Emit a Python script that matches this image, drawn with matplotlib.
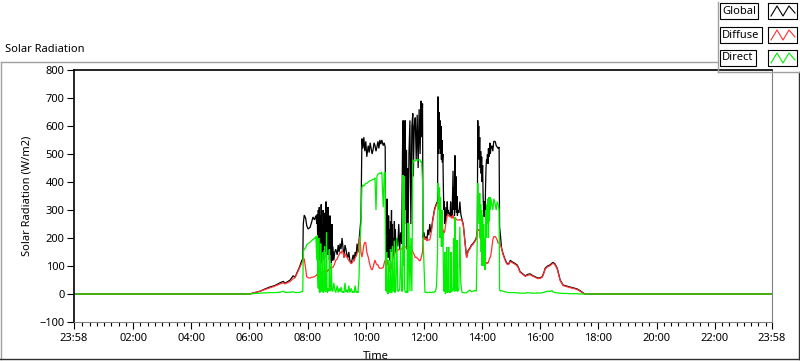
import numpy as np
import pandas as pd
import matplotlib
matplotlib.use("Agg")
import matplotlib.pyplot as plt
from matplotlib.lines import Line2D

# sample times (first entry is 23:58 of the day before)
time_hm = [
    # night + early morning
    "-00:02", "06:00", "06:11", "06:22", "06:32", "06:42", "06:52", "07:03", "07:10", "07:13",
    "07:24", "07:30", "07:34", "07:44", "07:48", "07:50",
    # 07:51 - 08:21
    "07:51", "07:53", "07:56", "07:58", "08:01", "08:05", "08:08", "08:11", "08:14", "08:17",
    "08:19", "08:20", "08:21",
    # 08:22 - 08:56
    "08:22", "08:23", "08:24", "08:25", "08:26", "08:27", "08:28", "08:29", "08:30", "08:31",
    "08:32", "08:33", "08:34", "08:35", "08:36", "08:37", "08:38", "08:39", "08:40", "08:41",
    "08:42", "08:43", "08:44", "08:45", "08:46", "08:47", "08:48", "08:49", "08:50", "08:51",
    "08:52", "08:54", "08:56",
    # 08:58 - 09:50
    "08:58", "09:01", "09:03", "09:05", "09:07", "09:09", "09:11", "09:13", "09:15", "09:17",
    "09:19", "09:21", "09:23", "09:25", "09:27", "09:30", "09:32", "09:34", "09:36", "09:38",
    "09:40", "09:42", "09:44", "09:46", "09:48", "09:50",
    # 09:52 - 10:40
    "09:52", "09:54", "09:56", "09:58", "10:00", "10:02", "10:05", "10:07", "10:09", "10:11",
    "10:13", "10:15", "10:17", "10:19", "10:21", "10:23", "10:25", "10:27", "10:29", "10:31",
    "10:33", "10:36", "10:38", "10:40",
    # 10:41 - 11:14
    "10:41", "10:42", "10:43", "10:44", "10:45", "10:46", "10:47", "10:48", "10:49", "10:50",
    "10:51", "10:52", "10:53", "10:54", "10:55", "10:56", "10:57", "10:58", "10:59", "11:00",
    "11:01", "11:02", "11:04", "11:06", "11:08", "11:10", "11:12", "11:14",
    # 11:16 - 11:57
    "11:16", "11:17", "11:18", "11:19", "11:20", "11:21", "11:22", "11:24", "11:25", "11:26",
    "11:27", "11:29", "11:31", "11:33", "11:35", "11:37", "11:38", "11:40", "11:42", "11:44",
    "11:46", "11:48", "11:50", "11:52", "11:54", "11:55", "11:57",
    # 11:58 - 12:28
    "11:58", "12:00", "12:02", "12:04", "12:06", "12:08", "12:10", "12:12", "12:14", "12:16",
    "12:18", "12:20", "12:22", "12:24", "12:26", "12:28",
    # 12:29 - 12:58
    "12:29", "12:30", "12:31", "12:32", "12:33", "12:34", "12:35", "12:36", "12:37", "12:38",
    "12:39", "12:40", "12:41", "12:42", "12:43", "12:44", "12:45", "12:46", "12:47", "12:48",
    "12:49", "12:50", "12:51", "12:52", "12:54", "12:55", "12:56", "12:57", "12:58",
    # 13:00 - 13:48
    "13:00", "13:01", "13:02", "13:03", "13:04", "13:05", "13:06", "13:07", "13:08", "13:09",
    "13:10", "13:12", "13:14", "13:16", "13:18", "13:19", "13:21", "13:25", "13:28", "13:31",
    "13:35", "13:38", "13:41", "13:45", "13:48",
    # 13:50 - 14:35
    "13:50", "13:51", "13:52", "13:53", "13:54", "13:55", "13:56", "13:57", "13:58", "13:59",
    "14:00", "14:01", "14:02", "14:03", "14:04", "14:05", "14:06", "14:07", "14:08", "14:09",
    "14:10", "14:11", "14:12", "14:13", "14:14", "14:15", "14:16", "14:17", "14:18",
    "14:20", "14:22", "14:24", "14:27", "14:29", "14:31", "14:33", "14:35",
    # afternoon + evening
    "14:36", "14:38", "14:40", "14:43", "14:47", "14:51", "14:55", "14:58", "15:02", "15:07",
    "15:12", "15:15", "15:18", "15:24", "15:29", "15:34", "15:39", "15:44", "15:49", "15:55",
    "16:00", "16:04", "16:08", "16:10", "16:15", "16:20", "16:24", "16:26", "16:30", "16:35",
    "16:41", "16:47", "16:55", "17:01", "17:08", "17:16", "17:22", "17:26", "17:32", "23:58",
]

global_wm2 = [
    0, 0, 5, 10, 18, 25, 30, 40, 45, 38, 50, 65, 60, 100, 120, 125,
    250, 282, 270, 245, 232, 238, 255, 275, 265, 280, 250, 285, 150,
    300, 120, 310, 130, 280, 110, 320, 140, 250, 120,
    300, 160, 260, 130, 290, 150, 330, 180, 270, 140,
    310, 160, 230, 120, 280, 140, 200, 110, 250, 120,
    170, 120, 150,
    160, 140, 175, 150, 180, 160, 200, 165, 130, 175, 160, 140, 130, 150, 120, 110, 125, 140, 120, 150,
    135, 180, 150, 190, 230, 270,
    555, 520, 560, 510, 545, 490, 530, 505, 540, 520, 500, 515, 540, 530, 510, 525, 545, 520, 550, 535,
    550, 530, 540, 525,
    150, 300, 140, 340, 200, 130, 280, 160, 230, 120, 260, 180, 300, 150, 250, 140, 200, 135, 260, 150,
    230, 160, 200, 170, 250, 160, 220, 180,
    560, 620, 200, 600, 250, 620, 300, 515, 160, 450, 180, 500, 620, 250, 600, 645, 420, 600, 630, 480,
    640, 450, 660, 500, 690, 560, 680,
    200, 220, 195, 205, 190, 230, 210, 250, 220, 240, 265, 285, 305, 315, 325, 330,
    705, 500, 650, 520, 620, 500, 600, 480, 550, 470,
    500, 380, 300, 330, 250, 300, 260, 310, 280, 330,
    290, 300, 285, 290, 280, 330, 280, 300, 275,
    440, 300, 380, 280, 495, 300, 420, 290, 350, 280, 300, 290, 330, 285, 270, 262, 250, 180, 132, 155,
    165, 175, 180, 190, 200,
    230, 620, 520, 600, 480, 560, 450, 510, 430, 490,
    400, 460, 350, 300, 275, 330, 275, 380, 450, 480,
    470, 500, 465, 520, 490, 510, 540, 500, 520,
    530, 510, 545, 545, 530, 525, 520, 525,
    240, 205, 165, 145, 125, 110, 108, 120, 115, 110, 104, 95, 80, 72, 65, 70, 72, 66, 62, 57,
    58, 62, 80, 92, 100, 104, 110, 113, 108, 92, 50, 32, 28, 25, 22, 18, 12, 7, 0, 0,
]

diffuse_wm2 = [
    0, 0, 5, 10, 16, 22, 28, 36, 40, 36, 45, 55, 58, 95, 110, 118,
    128, 125, 90, 62, 58, 57, 60, 60, 62, 65, 70, 65, 68,
    70, 70, 72, 70, 75, 70, 78, 75, 78, 72,
    80, 80, 82, 78, 80, 82, 80, 85, 85, 80,
    85, 85, 88, 90, 90, 92, 95, 90, 95, 95,
    95, 100, 110,
    120, 125, 135, 140, 150, 145, 155, 150, 130, 145, 135, 132, 125, 120, 115, 108, 112, 118, 118, 130,
    135, 145, 150, 190, 205, 150,
    132, 150, 175, 185, 182, 150, 132, 115, 100, 90, 86, 95, 110, 121, 110, 104, 104, 95, 92, 92,
    92, 95, 110, 121,
    121, 115, 110, 105, 110, 121, 115, 100, 95, 78, 85, 90, 95, 110, 120, 132, 135, 130, 140, 145,
    150, 150, 155, 157, 160, 157, 160, 160,
    165, 168, 168, 168, 168, 168, 168, 165, 165, 165, 167, 168, 168, 165, 160, 150, 148, 140, 130, 132,
    128, 125, 120, 118, 128, 135, 150,
    195, 205, 195, 200, 190, 193, 193, 193, 210, 230, 260, 280, 300, 310, 320, 325,
    325, 320, 315, 300, 290, 280, 270, 260, 253, 240,
    230, 225, 218, 220, 225, 240, 250, 260, 270, 280,
    282, 282, 280, 278, 275, 278, 275, 275, 270,
    282, 275, 270, 265, 275, 270, 268, 266, 265, 264, 264, 264, 266, 265, 264, 258, 247, 177, 129, 152,
    162, 172, 177, 187, 197,
    228, 228, 230, 228, 230, 215, 200, 195, 193, 193,
    190, 195, 190, 170, 150, 130, 112, 110, 110, 112,
    110, 112, 110, 115, 120, 125, 130, 132, 140,
    165, 193, 205, 205, 200, 193, 182, 182,
    182, 175, 162, 142, 122, 107, 106, 116, 112, 107, 101, 92, 78, 70, 63, 67, 69, 64, 60, 55,
    56, 60, 77, 89, 97, 101, 107, 110, 105, 89, 48, 30, 26, 23, 20, 16, 10, 5, 0, 0,
]

direct_wm2 = [
    0, 0, 2, 3, 4, 5, 5, 6, 10, 6, 6, 8, 5, 6, 8, 10,
    150, 160, 165, 175, 180, 185, 190, 195, 198, 205, 120, 210, 60,
    20, 200, 10, 5, 8, 180, 10, 15, 10, 150,
    5, 10, 15, 170, 10, 8, 30, 220, 10, 5,
    20, 15, 10, 160, 20, 10, 15, 110, 20, 10,
    10, 40, 15,
    5, 30, 5, 20, 8, 25, 5, 10, 5, 40, 8, 15, 5, 30, 5, 20, 5, 10, 5, 30,
    5, 10, 5, 60, 190, 250,
    380, 390, 385, 390, 395, 395, 400, 402, 405, 405, 408, 410, 410, 415, 300, 420, 428, 430, 432, 430,
    435, 310, 432, 435,
    60, 10, 150, 5, 5, 0, 120, 10, 10, 5, 160, 10, 5, 5, 170, 20, 10, 10, 190, 5,
    10, 15, 200, 10, 10, 20, 170, 10,
    10, 425, 100, 420, 20, 10, 5, 10, 5, 253, 5, 253, 10, 200, 10, 460, 478, 478, 475, 478,
    480, 478, 480, 478, 470, 475, 400,
    205, 100, 7, 5, 7, 5, 5, 7, 5, 5, 7, 5, 8, 10, 30, 150,
    396, 346, 300, 380, 200, 346, 250, 170, 300, 168,
    220, 100, 10, 10, 150, 0, 5, 10, 168, 5,
    10, 10, 168, 5, 10, 5, 150, 10, 10,
    20, 200, 10, 10, 275, 20, 10, 30, 193, 10, 10, 20, 240, 40, 10, 5, 5, 4, 5, 10,
    14, 8, 10, 12, 10,
    200, 396, 300, 350, 250, 360, 200, 320, 150, 300,
    100, 280, 120, 250, 100, 200, 86, 250, 300, 200,
    320, 250, 340, 200, 346, 260, 346, 300, 340,
    320, 300, 340, 320, 300, 330, 320, 300,
    15, 10, 12, 10, 8, 6, 5, 5, 5, 5, 4, 4, 3, 3, 3, 5, 4, 3, 3, 4,
    3, 5, 6, 8, 10, 9, 12, 8, 5, 4, 3, 2, 2, 1, 1, 1, 0, 0, 0, 0,
]

series_names = ["Global", "Diffuse", "Direct"]
series_colors = ["#000000", "#ff3030", "#00f000"]

assert len(time_hm) == len(global_wm2) == len(diffuse_wm2) == len(direct_wm2)

hours = pd.to_timedelta([t + ":00" for t in time_hm]) / pd.Timedelta(hours=1)
t_start, t_end = -2 / 60, 23 + 58 / 60

plt.rcParams['font.family'] = ['Noto Sans', 'DejaVu Sans']
fs = 8

fig = plt.figure(figsize=(8.0, 3.61), dpi=100)
ax = fig.add_axes([74 / 800, 1 - 322 / 361, 698 / 800, 252 / 361])

for vals, col in zip([global_wm2, diffuse_wm2, direct_wm2], series_colors):
    ax.plot(hours, vals, color=col, lw=0.9, solid_joinstyle='miter')

ax.set_xlim(t_start, t_end)
ax.set_ylim(-100, 800)
ax.set_yticks(np.arange(-100, 801, 100))

xt = [t_start] + list(range(2, 23, 2)) + [t_end]
ax.set_xticks(xt)
ax.set_xticklabels(["23:58"] + [f"{h:02d}:00" for h in range(2, 23, 2)] + ["23:58"])
ax.set_xticks(np.arange(0.25, 24, 0.25), minor=True)

ax.tick_params(axis='both', labelsize=fs, direction='out', width=0.8, colors='black')
ax.tick_params(axis='y', length=5, pad=2)
ax.tick_params(axis='x', which='major', length=5, pad=3)
ax.tick_params(axis='x', which='minor', length=3, width=0.8)

for s in ['left', 'top']:
    ax.spines[s].set_color('black')
    ax.spines[s].set_linewidth(1.2)
for s in ['right', 'bottom']:
    ax.spines[s].set_color('#808080')
    ax.spines[s].set_linewidth(0.8)

ax.set_ylabel("Solar Radiation (W/m2)", fontsize=fs)
ax.yaxis.set_label_coords(-41 / 698, 0.5)
ax.set_xlabel("Time", fontsize=fs)
ax.xaxis.set_label_coords((363 - 74) / 698, -0.115)
ax.xaxis.label.set_horizontalalignment('left')

# outer panel frame
def px_line(xs, ys, color, lw=1.0):
    fig.add_artist(Line2D([x / 800 for x in xs], [1 - y / 361 for y in ys],
                          color=color, lw=lw, transform=fig.transFigure))

px_line([0.5, 717], [61.5, 61.5], '#a0a0a0')
px_line([0.5, 0.5], [61.5, 359], '#a0a0a0')
px_line([0, 799], [359, 359], '#303030')
px_line([798.5, 798.5], [72, 359], '#303030')

fig.text(5 / 800, 1 - 50 / 361, "Solar Radiation", fontsize=fs, ha='left', va='center')

# legend panel
px_line([717.5, 717.5], [2, 72], '#a0a0a0')
px_line([717.5, 800], [72, 72], '#a0a0a0')
rows_y = [11, 35, 58]
for name, col, yc in zip(series_names, series_colors, rows_y):
    fig.text(722 / 800, 1 - yc / 361, name, fontsize=fs, ha='left', va='center',
             bbox=dict(boxstyle='square,pad=0.2', fc='white', ec='black', lw=0.8))
    # swatch box
    bx0, bx1, by0, by1 = 768, 797, yc - 8, yc + 8
    px_line([bx0, bx1, bx1, bx0, bx0], [by0, by0, by1, by1, by0], 'black', 0.8)
    px_line([771, 777, 783, 789, 795], [yc + 5, yc - 5, yc + 5, yc - 5, yc + 2], col, 0.8)

fig.savefig("out.png", dpi=100, facecolor='white')
